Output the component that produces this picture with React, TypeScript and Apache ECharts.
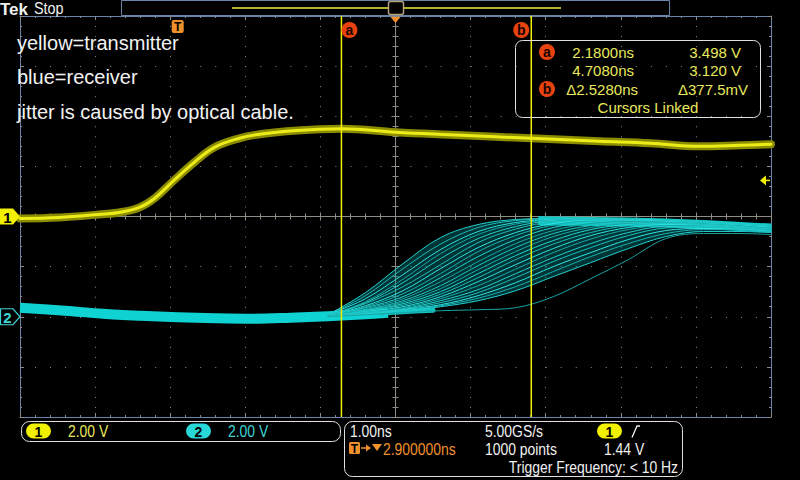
import React, { useEffect, useRef } from "react";
import * as echarts from "echarts";

// ---- scope settings ----
const NS_PER_DIV = 1.0;
const H_POSITION_NS = 2.9; // time at screen centre, relative to trigger
const CH1_V_PER_DIV = 2.0;
const CH2_V_PER_DIV = 2.0;
const CH1_OFFSET_DIV = 0;
const CH2_OFFSET_DIV = -2;
const TRIGGER_LEVEL_V = 1.44;
const CURSOR_A_NS = 2.18;
const CURSOR_B_NS = 4.708;

// ---- channel 1 (yellow = transmitter) ----
const ch1Times = [-2.1, -1.58, -1.05, -0.78, -0.51, -0.31, -0.05, 0.22, 0.49, 0.82, 1.09, 1.45, 1.89, 2.19, 2.9, 3.62, 4.71, 5.62, 6.29, 6.95, 7.49, 7.9];
const ch1Volts = [-0.08, -0.04, 0.08, 0.16, 0.36, 0.72, 1.44, 2.16, 2.76, 3.12, 3.28, 3.4, 3.48, 3.5, 3.36, 3.26, 3.12, 3.0, 2.92, 2.8, 2.84, 2.88];

// ---- channel 2 (blue = receiver) ----
const ch2BaseTimes = [-2.1, -1.5, -1.0, -0.5, 0.0, 0.5, 1.0, 1.5, 2.0, 2.5, 2.8];
const ch2BaseVolts = [0.36, 0.24, 0.12, 0.04, -0.02, -0.06, -0.08, -0.04, 0.02, 0.1, 0.16];
const ch2TailTimes = [2.7, 3.0, 3.4];
const ch2TailVolts = [0.14, 0.2, 0.26];
const ch2TopTimes = [4.8, 5.0, 5.5, 6.0, 6.5, 7.0, 7.5, 7.9];
const ch2TopVolts = [3.84, 3.82, 3.8, 3.78, 3.74, 3.68, 3.6, 3.54];

const ch2SweepTimes = [2.0, 2.5, 3.0, 3.5, 4.0, 4.5, 5.0, 5.5, 6.0, 6.5, 7.0, 7.5, 7.9];
const ch2SweepA = [0.08, 0.96, 2.12, 3.16, 3.68, 3.88, 3.92, 3.92, 3.88, 3.84, 3.8, 3.72, 3.64];
const ch2SweepA2 = [0.08, 0.84, 1.92, 2.9, 3.56, 3.84, 3.9, 3.92, 3.9, 3.84, 3.78, 3.7, 3.62];
const ch2SweepB = [0.08, 0.72, 1.68, 2.68, 3.4, 3.76, 3.88, 3.92, 3.88, 3.84, 3.76, 3.68, 3.6];
const ch2SweepB2 = [0.06, 0.6, 1.5, 2.52, 3.28, 3.7, 3.86, 3.9, 3.86, 3.82, 3.76, 3.66, 3.58];
const ch2SweepC = [0.04, 0.56, 1.36, 2.32, 3.12, 3.6, 3.84, 3.88, 3.88, 3.8, 3.76, 3.68, 3.56];
const ch2SweepC2 = [0.04, 0.52, 1.2, 2.08, 2.96, 3.5, 3.8, 3.86, 3.84, 3.8, 3.74, 3.66, 3.56];
const ch2SweepD = [0.04, 0.44, 1.04, 1.92, 2.76, 3.36, 3.72, 3.84, 3.84, 3.8, 3.72, 3.64, 3.56];
const ch2SweepD2 = [0.04, 0.4, 0.92, 1.72, 2.6, 3.24, 3.66, 3.82, 3.82, 3.78, 3.72, 3.62, 3.54];
const ch2SweepE = [0.04, 0.36, 0.8, 1.56, 2.4, 3.08, 3.56, 3.76, 3.8, 3.76, 3.72, 3.64, 3.52];
const ch2SweepE2 = [0.02, 0.32, 0.72, 1.4, 2.2, 2.92, 3.44, 3.72, 3.8, 3.76, 3.7, 3.62, 3.52];
const ch2SweepF = [0.0, 0.28, 0.64, 1.24, 2.04, 2.76, 3.32, 3.64, 3.76, 3.76, 3.68, 3.6, 3.52];
const ch2SweepF2 = [0.0, 0.26, 0.58, 1.12, 1.88, 2.6, 3.2, 3.56, 3.72, 3.74, 3.68, 3.6, 3.5];
const ch2SweepG = [0.0, 0.24, 0.52, 1.0, 1.72, 2.44, 3.04, 3.48, 3.68, 3.72, 3.68, 3.6, 3.48];
const ch2SweepG2 = [0.0, 0.22, 0.46, 0.9, 1.56, 2.28, 2.9, 3.36, 3.64, 3.7, 3.66, 3.58, 3.48];
const ch2SweepH = [0.0, 0.2, 0.4, 0.8, 1.4, 2.08, 2.72, 3.24, 3.56, 3.68, 3.64, 3.56, 3.48];
const ch2SweepH2 = [0.0, 0.18, 0.36, 0.72, 1.24, 1.9, 2.56, 3.1, 3.48, 3.64, 3.62, 3.56, 3.46];
const ch2SweepI = [0.0, 0.16, 0.32, 0.64, 1.08, 1.72, 2.36, 2.92, 3.36, 3.6, 3.6, 3.56, 3.44];
const ch2SweepI2 = [0.0, 0.14, 0.3, 0.56, 0.96, 1.56, 2.2, 2.76, 3.24, 3.54, 3.58, 3.52, 3.42];
const ch2SweepJ = [0.0, 0.12, 0.28, 0.48, 0.84, 1.36, 2.0, 2.56, 3.08, 3.44, 3.52, 3.48, 3.4];
const ch2SweepJ2 = [0.0, 0.12, 0.26, 0.44, 0.74, 1.2, 1.8, 2.4, 2.92, 3.32, 3.48, 3.46, 3.38];
const ch2SweepK = [0.0, 0.12, 0.24, 0.4, 0.64, 1.04, 1.6, 2.16, 2.72, 3.2, 3.4, 3.4, 3.36];
const ch2SweepL = [0.0, 0.08, 0.16, 0.24, 0.28, 0.36, 0.8, 1.52, 2.28, 3.12, 3.32, 3.32, 3.28];
const ch2MainSweeps = [
  ch2SweepA, ch2SweepA2, ch2SweepB, ch2SweepB2, ch2SweepC, ch2SweepC2, ch2SweepD, ch2SweepD2, ch2SweepE, ch2SweepE2,
  ch2SweepF, ch2SweepF2, ch2SweepG, ch2SweepG2, ch2SweepH, ch2SweepH2, ch2SweepI, ch2SweepI2, ch2SweepJ, ch2SweepJ2, ch2SweepK,
];
const ch2Sweeps = [...ch2MainSweeps, ch2SweepL];

// ---- readouts ----
const cursorRows = [
  { time: "2.1800ns", value: "3.498 V" },
  { time: "4.7080ns", value: "3.120 V" },
  { time: "\u03942.5280ns", value: "\u0394377.5mV" },
];
const annotations = ["yellow=transmitter", "blue=receiver", "jitter is caused by optical cable."];

const toX = (t: number) => (t - H_POSITION_NS) / NS_PER_DIV;
const toY1 = (v: number) => v / CH1_V_PER_DIV + CH1_OFFSET_DIV;
const toY2 = (v: number) => v / CH2_V_PER_DIV + CH2_OFFSET_DIV;
const pts = (ts: number[], vs: number[], f: (v: number) => number) => ts.map((t, i) => [toX(t), f(vs[i])]);

const FRAME = "#6884a8";
const DOT = "#8a8a8a";
const CENTER = "#8e8e86";
const UI = "'Liberation Sans', Arial, sans-serif";
const WHITE = "#f0f0f0";
const YEL = "#e8e85c";
const CYAN = "#3fd4d4";
const ORANGE = "#f0902c";
const RED = "#e8420e";
const CURSOR = "#f0f000";

const sweepColors = ["#22d4d4", "#1ab8b8", "#2ee0e0", "#14a8a8", "#26cccc", "#1cbcbc", "#30e4e4", "#18b0b0", "#24d0d0", "#16a4a4", "#20c4c4", "#1aa8a8"];

function frameX(position: string) {
  return {
    type: "value", min: -5, max: 5, interval: 1, position,
    axisLine: { show: true, onZero: false, lineStyle: { color: FRAME, width: 1 } },
    axisTick: { show: true, inside: true, length: 4, lineStyle: { color: DOT } },
    minorTick: { show: true, splitNumber: 5, length: 2, lineStyle: { color: DOT } },
    axisLabel: { show: false },
    splitLine: { show: false },
  };
}
function frameY(position: string) {
  return {
    type: "value", min: -4, max: 4, interval: 1, position,
    axisLine: { show: true, onZero: false, lineStyle: { color: FRAME, width: 1 } },
    axisTick: { show: true, inside: true, length: 4, lineStyle: { color: DOT } },
    minorTick: { show: true, splitNumber: 5, length: 2, lineStyle: { color: DOT } },
    axisLabel: { show: false },
    splitLine: { show: false },
  };
}
function centerX(inside: boolean) {
  return {
    type: "value", min: -5, max: 5, interval: 1, position: "bottom",
    axisLine: { show: true, onZero: true, onZeroAxisIndex: 0, lineStyle: { color: CENTER, width: 1 } },
    axisTick: { show: true, inside, length: 4, lineStyle: { color: CENTER } },
    minorTick: { show: true, splitNumber: 5, length: 3, lineStyle: { color: CENTER } },
    axisLabel: { show: false },
    splitLine: { show: false },
  };
}
function centerY(inside: boolean) {
  return {
    type: "value", min: -4, max: 4, interval: 1, position: "left",
    axisLine: { show: true, onZero: true, onZeroAxisIndex: 0, lineStyle: { color: CENTER, width: 1 } },
    axisTick: { show: true, inside, length: 4, lineStyle: { color: CENTER } },
    minorTick: { show: true, splitNumber: 5, length: 3, lineStyle: { color: CENTER } },
    axisLabel: { show: false },
    splitLine: { show: false },
  };
}

function buildOption(): any {
  const xMain: any = frameX("bottom");
  xMain.splitLine = { show: true, lineStyle: { color: DOT, width: 1, type: [1, 9.025] } };
  const yMain: any = frameY("left");
  yMain.splitLine = { show: true, lineStyle: { color: DOT, width: 1, type: [1, 14.02] } };

  const line = (name: string, data: number[][], color: string, width: number, z: number, smooth: any = 0.35, cap = "round") => ({
    name, type: "line", data, symbol: "none", showSymbol: false, silent: true, smooth, z,
    lineStyle: { color, width, cap, join: "round" },
  });

  return {
    animation: false,
    backgroundColor: "#000",
    grid: { left: 20, right: 29, top: 16, bottom: 63, containLabel: false },
    xAxis: [xMain, frameX("top"), centerX(true), centerX(false)],
    yAxis: [yMain, frameY("right"), centerY(true), centerY(false)],
    series: [
      {
        type: "custom", silent: true, z: 1, data: [[0, 0]],
        renderItem: (_p: any, api: any) => {
          const upper = ch2SweepTimes.map((t, i) => api.coord([toX(t), toY2(Math.max(...ch2MainSweeps.map((s) => s[i])))]));
          const lower = ch2SweepTimes.map((t, i) => api.coord([toX(t), toY2(Math.min(...ch2MainSweeps.map((s) => s[i])))])).reverse();
          return { type: "polygon", shape: { points: upper.concat(lower), smooth: 0.2 }, style: { fill: "rgba(0,150,150,0.35)" } };
        },
      },
      line("ch2Base", pts(ch2BaseTimes, ch2BaseVolts, toY2), "#0fd2d2", 10, 3, 0.35, "butt"),
      line("ch2Tail", pts(ch2TailTimes, ch2TailVolts, toY2), "#12c4c4", 5, 3, 0.35, "round"),
      line("ch2Top", pts(ch2TopTimes, ch2TopVolts, toY2), "#10c8c8", 9, 3, 0.35, "butt"),
      ...ch2Sweeps.map((s, i) => line("ch2Sweep" + i, pts(ch2SweepTimes, s, toY2), sweepColors[i % sweepColors.length], 1, 4)),
      line("ch1Glow", pts(ch1Times, ch1Volts, toY1), "#8c8c00", 8, 5, 0.4),
      line("ch1", pts(ch1Times, ch1Volts, toY1), "#ecec18", 3, 6, 0.4),
      line("cursorA", [[toX(CURSOR_A_NS), -4], [toX(CURSOR_A_NS), 4]], CURSOR, 1.5, 8, false, "butt"),
      line("cursorB", [[toX(CURSOR_B_NS), -4], [toX(CURSOR_B_NS), 4]], CURSOR, 1.5, 8, false, "butt"),
    ],
  };
}

function txt(text: string, x: number, y: number, o: any = {}) {
  return {
    type: "text", x, y, z: 100, scaleX: o.scaleX ?? 1, silent: true,
    style: {
      text, fill: o.color ?? WHITE,
      font: `${o.weight ?? "normal"} ${o.size ?? 16}px ${o.family ?? UI}`,
      textAlign: o.align ?? "left", textVerticalAlign: "middle",
    },
  };
}
function pill(cx: number, cy: number, label: string, fill: string) {
  return [
    { type: "rect", z: 100, silent: true, shape: { x: cx - 12.5, y: cy - 7.5, width: 25, height: 15, r: 7.5 }, style: { fill } },
    txt(label, cx, cy + 0.5, { color: "#000", weight: "bold", size: 14, align: "center" }),
  ];
}
function badge(cx: number, cy: number, letter: string) {
  return [
    { type: "circle", z: 100, silent: true, shape: { cx, cy, r: 8 }, style: { fill: RED } },
    txt(letter, cx, cy, { color: "#1a0500", weight: "bold", size: 14, align: "center" }),
  ];
}

function buildGraphic(px: (x: number, y: number) => number[]): any[] {
  const [gl, gt] = px(-5, 4);
  const [gr] = px(5, 4);
  const y1 = px(0, toY1(0))[1];
  const y2 = px(0, toY2(0))[1];
  const yTrig = px(0, toY1(TRIGGER_LEVEL_V))[1];
  const xTrig = px(toX(0), 0)[0];
  const xCenter = px(0, 0)[0];
  const xa = px(toX(CURSOR_A_NS), 0)[0];
  const xb = px(toX(CURSOR_B_NS), 0)[0];
  const S = 0.87;
  const els: any[] = [
    // header
    txt("Tek", 0, 9, { size: 17, weight: "bold" }),
    txt("Stop", 34, 8.5, { size: 16, scaleX: 0.9 }),
    { type: "rect", z: 100, silent: true, shape: { x: 121.5, y: 0.5, width: 548, height: 15 }, style: { fill: "#000", stroke: FRAME, lineWidth: 1 } },
    { type: "line", z: 101, silent: true, shape: { x1: 232, y1: 8, x2: 561, y2: 8 }, style: { stroke: "#f0f040", lineWidth: 1.5 } },
    { type: "rect", z: 101, silent: true, shape: { x: 388.5, y: 1.5, width: 15, height: 13, r: 2 }, style: { fill: "#000", stroke: "#b4a078", lineWidth: 1.5 } },
    txt("T", xCenter - 1, 8, { color: ORANGE, weight: "bold", size: 12, align: "center" }),
    { type: "polygon", z: 101, silent: true, shape: { points: [[xCenter - 5, 17], [xCenter + 5, 17], [xCenter, 23]] }, style: { fill: ORANGE } },
    // trigger position marker
    { type: "rect", z: 100, silent: true, shape: { x: xTrig - 6, y: gt + 4, width: 12, height: 13, r: 2 }, style: { fill: ORANGE } },
    txt("T", xTrig, gt + 10.5, { color: "#000", weight: "bold", size: 12, align: "center" }),
    // cursor badges
    ...badge(xa + 8, gt + 14, "a"),
    ...badge(xb - 10, gt + 14, "b"),
    // channel markers
    { type: "polygon", z: 100, silent: true, shape: { points: [[0, y1 - 8], [13, y1 - 8], [gl, y1], [13, y1 + 8], [0, y1 + 8]] }, style: { fill: "#f0f000" } },
    txt("1", 7.5, y1 + 0.5, { color: "#000", weight: "bold", size: 15, align: "center" }),
    { type: "polygon", z: 100, silent: true, shape: { points: [[0.5, y2 - 8], [13, y2 - 8], [gl, y2], [13, y2 + 8], [0.5, y2 + 8]] }, style: { fill: "#000", stroke: CYAN, lineWidth: 1.2 } },
    txt("2", 7.5, y2 + 0.5, { color: CYAN, weight: "bold", size: 15, align: "center" }),
    // trigger level arrow
    { type: "polygon", z: 100, silent: true, shape: { points: [[gr - 11, yTrig], [gr - 5, yTrig - 5], [gr - 5, yTrig + 5]] }, style: { fill: "#f0f000" } },
    { type: "line", z: 100, silent: true, shape: { x1: gr - 6, y1: yTrig, x2: gr - 1, y2: yTrig }, style: { stroke: "#f0f000", lineWidth: 1.5 } },
    // annotations
    ...annotations.map((a, i) => txt(a, 17, [43, 77, 112][i], { size: 20, color: "#f2f2f2" })),
    // cursor readout box
    { type: "rect", z: 100, silent: true, shape: { x: 515.5, y: 40.5, width: 245, height: 77, r: 7 }, style: { fill: "none", stroke: "#e0e0e0", lineWidth: 1 } },
    ...badge(547, 52, "a"),
    ...badge(547, 89, "b"),
    ...cursorRows.flatMap((r, i) => [
      txt(r.time, i === 2 ? 638 : 634, [52, 70, 89][i], { color: YEL, size: 15, align: "right" }),
      txt(r.value, i === 2 ? 748 : 741, [52, 70, 89][i], { color: YEL, size: 15, align: "right" }),
    ]),
    txt("Cursors Linked", 648, 107, { color: YEL, size: 15, align: "center" }),
    // bottom box 1
    { type: "rect", z: 100, silent: true, shape: { x: 21.5, y: 421.5, width: 319, height: 20, r: 8 }, style: { fill: "none", stroke: "#e0e0e0", lineWidth: 1 } },
    ...pill(38.5, 431, "1", "#f0f000"),
    txt("2.00 V", 68, 431, { color: YEL, scaleX: S }),
    ...pill(198.5, 431, "2", "#28d8d8"),
    txt("2.00 V", 228, 431, { color: CYAN, scaleX: S }),
    // bottom box 2
    { type: "rect", z: 100, silent: true, shape: { x: 344.5, y: 421.5, width: 338, height: 55, r: 8 }, style: { fill: "none", stroke: "#e0e0e0", lineWidth: 1 } },
    txt("1.00ns", 350, 431, { scaleX: S }),
    { type: "rect", z: 100, silent: true, shape: { x: 349, y: 442, width: 11, height: 12, r: 1.5 }, style: { fill: ORANGE } },
    txt("T", 354.5, 448.5, { color: "#000", weight: "bold", size: 12, align: "center" }),
    { type: "line", z: 100, silent: true, shape: { x1: 361, y1: 448, x2: 368, y2: 448 }, style: { stroke: ORANGE, lineWidth: 1.5 } },
    { type: "polygon", z: 100, silent: true, shape: { points: [[366, 444.5], [371, 448], [366, 451.5]] }, style: { fill: ORANGE } },
    { type: "polygon", z: 100, silent: true, shape: { points: [[372, 444], [382, 444], [377, 451]] }, style: { fill: ORANGE } },
    txt("2.900000ns", 383, 449, { color: ORANGE, scaleX: S }),
    txt("5.00GS/s", 485, 431, { scaleX: S }),
    txt("1000 points", 485, 449, { scaleX: S }),
    ...pill(609.5, 431, "1", "#f0f000"),
    { type: "polyline", z: 100, silent: true, shape: { points: [[632, 437.5], [637, 426], [640, 426]] }, style: { stroke: WHITE, lineWidth: 1.3, fill: "none" } },
    txt("1.44 V", 604, 449, { scaleX: S }),
    txt("Trigger Frequency: < 10 Hz", 678, 467, { align: "right", scaleX: S }),
  ];
  return els;
}

export default function App() {
  const ref = useRef<HTMLDivElement>(null);
  useEffect(() => {
    document.body.style.margin = "0";
    document.body.style.background = "#000";
    const chart = echarts.init(ref.current!, null, { renderer: "svg" });
    chart.setOption(buildOption());
    const px = (x: number, y: number) => chart.convertToPixel({ gridIndex: 0 } as any, [x, y]) as number[];
    chart.setOption({ graphic: buildGraphic(px) });
    return () => chart.dispose();
  }, []);
  return <div ref={ref} style={{ position: "fixed", left: 0, top: 0, width: 800, height: 480, background: "#000" }} />;
}
